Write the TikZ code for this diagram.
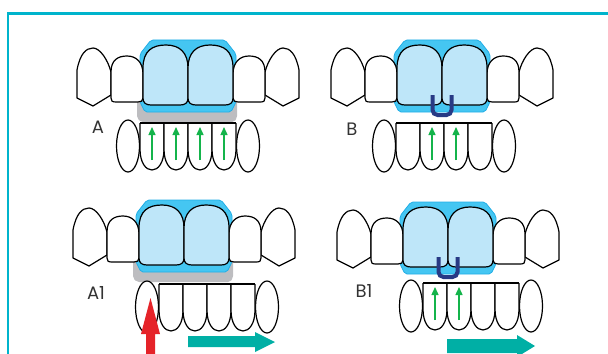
\documentclass[tikz,border=0pt]{standalone}
\usepackage{fontspec}
\setmainfont{Poppins}
\usepackage{tikz}
\usetikzlibrary{arrows.meta}

\definecolor{framecyan}{HTML}{00B4CC}
\definecolor{trayblue}{HTML}{45C6F2}
\definecolor{trayedge}{HTML}{22AEE6}
\definecolor{enamel}{HTML}{BEE6F9}
\definecolor{shadowgrey}{HTML}{BDBDC0}
\definecolor{claspnavy}{HTML}{283A85}
\definecolor{liftgreen}{HTML}{14B44B}
\definecolor{pushred}{HTML}{E52329}
\definecolor{slideteal}{HTML}{00AFA5}

\tikzset{
  tooth/.style={draw=black, fill=white, line width=0.6pt, line join=round},
  tray/.style={fill=trayblue, draw=trayedge, line width=0.4pt, rounded corners=1pt},
  clasp/.style={draw=claspnavy, line width=2pt, rounded corners=2.5pt},
  lift/.style={draw=liftgreen, line width=0.7pt, -{Triangle[length=4pt, width=3.5pt]}},
  panel/.style={inner sep=0pt, text=black!80, font=\fontsize{9}{10}\selectfont},
  % upper teeth with the tray over the two front ones
  upper arch/.pic={
    \path[tray] (-37,0) -- (37,0) -- (48,14) -- (48,62) -- (43,72)
      -- (-43,72) -- (-48,62) -- (-48,14) -- cycle;
    \foreach \s in {1,-1}{
      \begin{scope}[xscale=\s]
        % canine
        \draw[tooth] (-111,58) -- (-111,30) .. controls (-108,14) and (-102,8) .. (-95,8)
          .. controls (-88,8) and (-80,20) .. (-77,32) -- (-77,55) -- (-95,66) -- cycle;
        % lateral
        \draw[tooth] (-77,58) -- (-77,32) .. controls (-77,20) and (-70,16) .. (-61,16)
          .. controls (-52,16) and (-45,22) .. (-45,34) -- (-45,58)
          .. controls (-45,61) and (-47,62) .. (-50,62) -- (-72,62)
          .. controls (-76,62) and (-77,61) .. cycle;
        % central
        \draw[tooth, fill=enamel] (-45,58) -- (-45,28) .. controls (-45,11) and (-36,5) .. (-22,5)
          .. controls (-8,5) and (0,13) .. (0,28) -- (0,58)
          .. controls (0,63) and (-3,65) .. (-8,65) -- (-37,65)
          .. controls (-42,65) and (-45,63) .. cycle;
      \end{scope}
    }
  },
  tray shadow/.pic={
    \fill[shadowgrey, rounded corners=1pt] (-48,55) -- (48,55) -- (49,60) -- (49,78)
      -- (46,82) -- (-47,82) -- (-51,78) -- (-51,60) -- cycle;
  },
  bite clasp/.pic={
    \draw[clasp] (-9.5,55) -- (-9.5,75) -- (9.5,75) -- (9.5,55);
  },
  lower arch/.pic={
    \draw[tooth] (-60,23) ellipse [x radius=11.5, y radius=26];
    \draw[tooth] (60,23) ellipse [x radius=11.5, y radius=26];
    \foreach \i in {-48,-24,0,24}
      \draw[tooth] (\i,0) -- (\i,26) .. controls (\i,54) and (\i+24,54) .. (\i+24,26) -- (\i+24,0);
    \draw[tooth] (-48,0) -- (48,0);
  }
}

\begin{document}
\begin{tikzpicture}[x=0.5pt, y=-0.5pt]
  \useasboundingbox (0,0) rectangle (608,353);
  \clip (0,0) rectangle (608,353);

  % frame
  \draw[framecyan, line width=1.4pt] (8,360) -- (8,13.5) -- (620,13.5);

  % A
  \pic at (188,40) {tray shadow};
  \pic at (188,40) {upper arch};
  \pic at (188,123) {lower arch};
  \foreach \d in {-36,-12,12,36}
    \draw[lift] (188+\d,160) -- (188+\d,127);
  \node[panel] (labA) at (98,127) {A};

  % B
  \pic at (442,40) {upper arch};
  \pic at (442,40) {bite clasp};
  \pic at (444,123) {lower arch};
  \foreach \d in {-12,12}
    \draw[lift] (444+\d,160) -- (444+\d,127);
  \node[panel] (labB) at (352,129) {B};

  % A1
  \pic at (184,200) {tray shadow};
  \pic at (184,200) {upper arch};
  \pic at (207,284) {lower arch};
  \node[panel] (labA1) at (96,293) {A1};
  \fill[pushred] (146,360) -- (146,334) -- (141,334) -- (150.5,298) -- (160,334)
    -- (155,334) -- (155,360) -- cycle;
  \fill[slideteal] (188,336) -- (255,336) -- (255,332) -- (275,342) -- (255,352)
    -- (255,347) -- (188,347) -- cycle;

  % B1
  \pic at (448,202) {upper arch};
  \pic at (448,202) {bite clasp};
  \pic at (471,283) {lower arch};
  \foreach \d in {-36,-12}
    \draw[lift] (471+\d,320) -- (471+\d,287);
  \node[panel] (labB1) at (364,291) {B1};
  \fill[slideteal] (447,339) -- (517,339) -- (517,335) -- (535,346) -- (517,357)
    -- (517,353) -- (447,353) -- cycle;
\end{tikzpicture}
\end{document}
